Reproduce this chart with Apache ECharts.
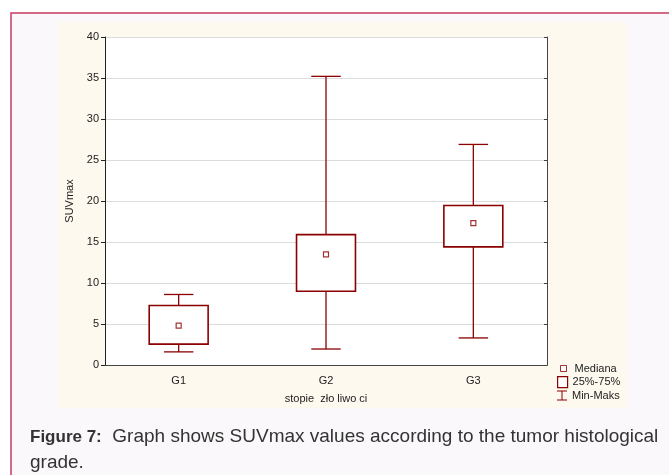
<!DOCTYPE html>
<html>
<head>
<meta charset="utf-8">
<script src="https://cdn.jsdelivr.net/npm/echarts@6/dist/echarts.min.js"></script>
<style>
  html, body { margin: 0; padding: 0; background: #ffffff; }
  #main { width: 669px; height: 475px; }
</style>
</head>
<body>
<div id="main"></div>
<script>
  // dane
  var categories = ['G1', 'G2', 'G3']
  var minVals = [1.6, 1.95, 3.3]
  var q1Vals = [2.55, 9.0, 14.4]
  var medianVals = [4.8, 13.5, 17.3]
  var q3Vals = [7.25, 15.9, 19.45]
  var maxVals = [8.6, 35.2, 26.9]
  var yTicks = [0, 5, 10, 15, 20, 25, 30, 35, 40]

  var dark = '#8b0000'
  var font = 'Liberation Sans, Arial, sans-serif'

  var boxData = categories.map(function (c, i) { return [i, q1Vals[i], q3Vals[i]] })
  var whiskerData = categories.map(function (c, i) { return [i, minVals[i], q1Vals[i], q3Vals[i], maxVals[i]] })
  var medianData = categories.map(function (c, i) { return [i, medianVals[i]] })

  var myChart = echarts.init(document.getElementById('main'))

  var option = {
    animation: false,
    backgroundColor: '#ffffff',
    textStyle: { fontFamily: font },
    graphic: [
      // tlo strony i ramka
      { type: 'rect', z: -10, silent: true, shape: { x: 11, y: 13, width: 720, height: 520 },
        style: { fill: '#faf8fa', stroke: '#c83a62', lineWidth: 1.5 } },
      // kremowy panel wykresu
      { type: 'rect', z: -9, silent: true, shape: { x: 58, y: 22, width: 569, height: 386 },
        style: { fill: '#fdf9ee' } },
      // podpis
      { type: 'text', left: 30, top: 424, silent: true,
        style: {
          text: '{b|Figure 7:}  Graph shows SUVmax values according to the tumor histological\ngrade.',
          fontFamily: font, fontSize: 19, fill: '#333333', lineHeight: 26,
          rich: { b: { fontWeight: 'bold', fontFamily: font, fontSize: 17, fill: '#333333' } }
        } }
    ],
    legend: [
      { left: 555, top: 358, orient: 'vertical', selectedMode: false, itemWidth: 6, itemHeight: 6,
        textStyle: { fontSize: 11, color: '#222', fontFamily: font, padding: [0, 0, 0, 3] },
        data: [{ name: 'Mediana', icon: 'rect', itemStyle: { color: '#ffffff', borderColor: dark, borderWidth: 1 } }] },
      { left: 552, top: 371, orient: 'vertical', selectedMode: false, itemWidth: 10, itemHeight: 11,
        textStyle: { fontSize: 11, color: '#222', fontFamily: font },
        data: [{ name: '25%-75%', icon: 'rect', itemStyle: { color: '#ffffff', borderColor: dark, borderWidth: 1.2 } }] },
      { left: 552, top: 385, orient: 'vertical', selectedMode: false, itemWidth: 10, itemHeight: 10,
        textStyle: { fontSize: 11, color: '#222', fontFamily: font },
        data: [{ name: 'Min-Maks', icon: 'path://M0,0h10v1h-10z M4.5,0h1v10h-1z M0,9h10v1h-10z', itemStyle: { color: dark } }] }
    ],
    grid: { left: 105, right: 122, top: 37, bottom: 110, show: true, backgroundColor: '#ffffff', borderWidth: 0 },
    xAxis: [
      {
        type: 'category', data: categories, boundaryGap: true,
        axisLine: { lineStyle: { color: '#222', width: 1 } },
        axisTick: { alignWithLabel: true, inside: true, length: 3, lineStyle: { color: '#222' } },
        axisLabel: { fontSize: 11, color: '#222', margin: 10 },
        name: 'stopie  zło liwo ci', nameLocation: 'middle', nameGap: 28,
        nameTextStyle: { fontSize: 11, color: '#222' }
      },
      {
        type: 'category', data: categories, boundaryGap: true, position: 'top',
        axisLine: { lineStyle: { color: '#444', width: 1 } },
        axisTick: { alignWithLabel: true, inside: true, length: 3, lineStyle: { color: '#444' } },
        axisLabel: { show: false }
      }
    ],
    yAxis: [
      {
        type: 'value', min: 0, max: 40, interval: 5,
        axisLine: { show: true, lineStyle: { color: '#222', width: 1 } },
        axisTick: { show: true, length: 4, lineStyle: { color: '#222' } },
        axisLabel: { fontSize: 11, color: '#222', margin: 6,
          formatter: function (v) { return yTicks.indexOf(v) >= 0 ? String(v) : '' } },
        splitLine: { lineStyle: { color: '#dcdcdc', width: 1 } },
        name: 'SUVmax', nameLocation: 'middle', nameGap: 27, nameRotate: 90,
        nameTextStyle: { fontSize: 11, color: '#222' }
      },
      {
        type: 'value', min: 0, max: 40, interval: 5, position: 'right',
        axisLine: { show: true, lineStyle: { color: '#444', width: 1 } },
        axisTick: { show: true, inside: true, length: 3, lineStyle: { color: '#444' } },
        axisLabel: { show: false },
        splitLine: { show: false }
      }
    ],
    series: [
      {
        name: 'Min-Maks', type: 'custom', z: 2,
        data: whiskerData,
        encode: { x: 0, y: [1, 2, 3, 4] },
        renderItem: function (params, api) {
          var idx = api.value(0)
          var pMin = api.coord([idx, api.value(1)])
          var pQ1 = api.coord([idx, api.value(2)])
          var pQ3 = api.coord([idx, api.value(3)])
          var pMax = api.coord([idx, api.value(4)])
          var half = api.size([1, 0])[0] * 0.1
          var st = { stroke: dark, lineWidth: 1.3 }
          return {
            type: 'group',
            children: [
              { type: 'line', shape: { x1: pMax[0], y1: pMax[1], x2: pQ3[0], y2: pQ3[1] }, style: st },
              { type: 'line', shape: { x1: pQ1[0], y1: pQ1[1], x2: pMin[0], y2: pMin[1] }, style: st },
              { type: 'line', shape: { x1: pMax[0] - half, y1: pMax[1], x2: pMax[0] + half, y2: pMax[1] }, style: st },
              { type: 'line', shape: { x1: pMin[0] - half, y1: pMin[1], x2: pMin[0] + half, y2: pMin[1] }, style: st }
            ]
          }
        }
      },
      {
        name: '25%-75%', type: 'custom', z: 3,
        data: boxData,
        encode: { x: 0, y: [1, 2] },
        renderItem: function (params, api) {
          var idx = api.value(0)
          var pTop = api.coord([idx, api.value(2)])
          var pBot = api.coord([idx, api.value(1)])
          var w = api.size([1, 0])[0] * 0.4
          return {
            type: 'rect',
            shape: { x: pTop[0] - w / 2, y: pTop[1], width: w, height: pBot[1] - pTop[1] },
            style: { fill: '#ffffff', stroke: dark, lineWidth: 1.6 }
          }
        }
      },
      {
        name: 'Mediana', type: 'scatter', z: 4,
        data: medianData,
        symbol: 'rect', symbolSize: 5,
        itemStyle: { color: '#ffffff', borderColor: dark, borderWidth: 1.2 }
      }
    ]
  }

  myChart.setOption(option)
</script>
</body>
</html>
